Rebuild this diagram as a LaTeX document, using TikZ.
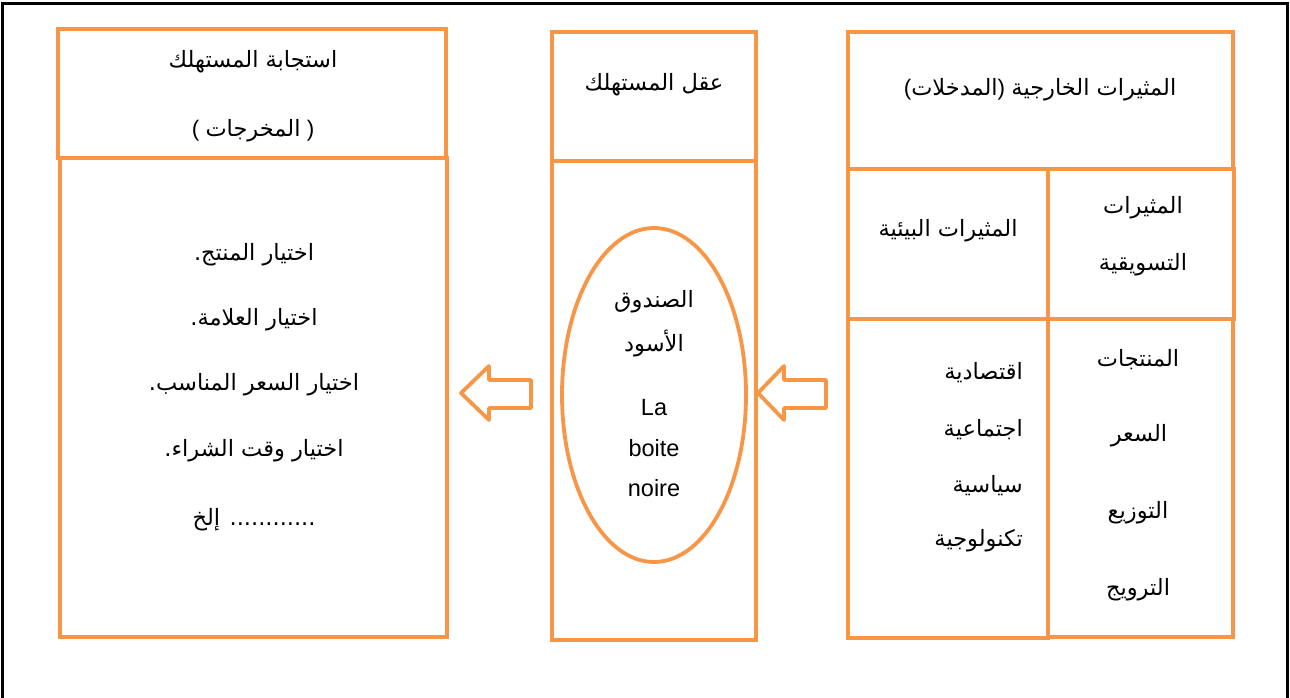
\documentclass[tikz,border=0pt]{standalone}
\usepackage{fontspec}
\usetikzlibrary{fit,shapes.geometric}
\setmainfont{Liberation Sans}
\newfontfamily\arabicfont[Script=Arabic]{DejaVu Sans}
\TeXXeTstate=1
\newcommand\artxt[1]{{\arabicfont\beginR #1\endR}}
\definecolor{boxorange}{RGB}{247,150,70}
\begin{document}
\begin{tikzpicture}[x=1pt,y=-1pt,
  box/.style={draw=boxorange, line width=4.5pt, inner sep=0pt},
  oval/.style={draw=boxorange, line width=3.8pt, ellipse, inner sep=0pt},
  blockarrow/.style={draw=boxorange, line width=3.8pt, line join=round},
  lbl/.style={font=\fontsize{22.5}{27}\selectfont, text=black, inner sep=0pt},
  latin/.style={font=\fontsize{23.5}{28}\selectfont, text=black, inner sep=0pt}]
\useasboundingbox (0,0) rectangle (1290,698);

% outer frame
\draw[black, line width=2.2pt] (2.5,720) -- (2.5,3.5) -- (1287.5,3.5) -- (1287.5,720);

% outputs column
\node[box, fit={(58,29)(446,158)}] (outTop) {};
\node[box, fit={(60,158)(447,637)}] (outBody) {};
% consumer mind column
\node[box, fit={(552,32)(756,161)}] (mindTop) {};
\node[box, fit={(552,161)(756,640)}] (mindBody) {};
\node[oval, minimum width=184pt, minimum height=334pt] (blackbox) at (654,395) {};
% inputs column
\node[box, fit={(848,32)(1233,169)}] (inTop) {};
\node[box, fit={(848,169)(1048,319)}] (envHead) {};
\node[box, fit={(1048,169)(1234,319)}] (mktHead) {};
\node[box, fit={(848,319)(1048,638)}] (envBody) {};
\node[box, fit={(1048,319)(1233,637)}] (mktBody) {};

% block arrows
\draw[blockarrow] (531,380) -- (489,380) -- (489,366) -- (461,393) -- (489,420) -- (489,408) -- (531,408) -- cycle;
\draw[blockarrow] (826,380) -- (784,380) -- (784,366) -- (758,393) -- (784,420) -- (784,408) -- (826,408) -- cycle;

% output texts
\node[lbl] (t1) at (253,62) {\artxt{استجابة المستهلك}};
\node[lbl] (t2) at (253,131) {( \artxt{المخرجات} )};
\node[lbl] (o1) at (254,255) {\artxt{اختيار المنتج.}};
\node[lbl] (o2) at (254,320) {\artxt{اختيار العلامة.}};
\node[lbl] (o3) at (254,385) {\artxt{اختيار السعر المناسب.}};
\node[lbl] (o4) at (254,451) {\artxt{اختيار وقت الشراء.}};
\node[lbl] (o5) at (254,520) {\artxt{............ إلخ}};

% consumer mind texts
\node[lbl] (m1) at (654,85) {\artxt{عقل المستهلك}};
\node[lbl] (m2) at (654,302) {\artxt{الصندوق}};
\node[lbl] (m3) at (654,344) {\artxt{الأسود}};
\node[latin] (m4) at (654,408) {La};
\node[latin] (m5) at (654,448) {boite};
\node[latin] (m6) at (654,488) {noire};

% input texts
\node[lbl] (i1) at (1040,90) {(\artxt{المدخلات}) \artxt{المثيرات الخارجية}};
\node[lbl] (i2) at (948,231) {\artxt{المثيرات البيئية}};
\node[lbl] (i3) at (1143,208) {\artxt{المثيرات}};
\node[lbl] (i4) at (1143,265) {\artxt{التسويقية}};
\node[lbl, anchor=east] (e1) at (1023,373) {\artxt{اقتصادية}};
\node[lbl, anchor=east] (e2) at (1023,430) {\artxt{اجتماعية}};
\node[lbl, anchor=east] (e3) at (1023,486) {\artxt{سياسية}};
\node[lbl, anchor=east] (e4) at (1023,541) {\artxt{تكنولوجية}};
\node[lbl] (p1) at (1138,360) {\artxt{المنتجات}};
\node[lbl] (p2) at (1139,436) {\artxt{السعر}};
\node[lbl] (p3) at (1138,513) {\artxt{التوزيع}};
\node[lbl] (p4) at (1138,590) {\artxt{الترويج}};
\end{tikzpicture}
\end{document}
